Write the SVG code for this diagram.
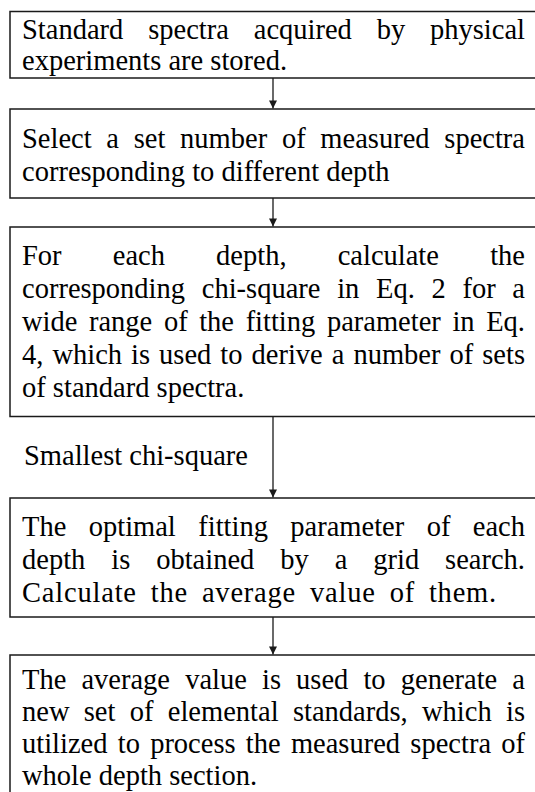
<svg xmlns="http://www.w3.org/2000/svg" width="535" height="792" viewBox="0 0 535 792">
<style>
.box{fill:#fff;stroke:#1a1a1a;stroke-width:1.5}
.t{font-family:"Liberation Serif","Times New Roman",serif;font-size:28.5px;fill:#000;font-variant-ligatures:none}
.e{text-anchor:end}
.w{letter-spacing:0.8px;word-spacing:6px}
.c{stroke:#1a1a1a;stroke-width:1.3;fill:none}
</style>
<defs>
<marker id="ah" viewBox="0 0 10 10" refX="10" refY="5" markerWidth="9" markerHeight="8" markerUnits="userSpaceOnUse" orient="auto">
<path d="M0,0 L10,5 L0,10 z" fill="#1a1a1a"/>
</marker>
</defs>
<rect width="535" height="792" fill="#fff"/>
<g id="connectors">
<line class="c" x1="273" y1="78" x2="273" y2="108.5" marker-end="url(#ah)"/>
<line class="c" x1="273" y1="198" x2="273" y2="226.5" marker-end="url(#ah)"/>
<line class="c" x1="273" y1="416.5" x2="273" y2="497.5" marker-end="url(#ah)"/>
<line class="c" x1="273" y1="617" x2="273" y2="654.5" marker-end="url(#ah)"/>
<text class="t" x="24" y="465">Smallest chi-square</text>
</g>
<g id="node1">
<rect class="box" x="10" y="11.5" width="540" height="66.5"/>
<text class="t" y="39"><tspan x="22">Standard</tspan><tspan x="148.2">spectra</tspan><tspan x="253.75">acquired</tspan><tspan x="376.7">by</tspan></text>
<text class="t e" x="525" y="39">physical</text>
<text class="t" x="22" y="70">experiments are stored.</text>
</g>
<g id="node2">
<rect class="box" x="10" y="109" width="540" height="89"/>
<text class="t" y="148"><tspan x="22">Select</tspan><tspan x="106.37">a</tspan><tspan x="133.74">set</tspan><tspan x="180.12">number</tspan><tspan x="281.91">of</tspan><tspan x="320.37">measured</tspan></text>
<text class="t e" x="525" y="148">spectra</text>
<text class="t" x="22" y="181">corresponding to different depth</text>
</g>
<g id="node3">
<rect class="box" x="10" y="227" width="540" height="189.5"/>
<text class="t" y="265"><tspan x="22">For</tspan><tspan x="112.74">each</tspan><tspan x="216.1">depth,</tspan><tspan x="337.7">calculate</tspan></text>
<text class="t e" x="525" y="265">the</text>
<text class="t" y="298"><tspan x="22">corresponding</tspan><tspan x="201.74">chi-square</tspan><tspan x="337.13">in</tspan><tspan x="375.99">Eq.</tspan><tspan x="431.47">2</tspan><tspan x="462.41">for</tspan></text>
<text class="t e" x="525" y="298">a</text>
<text class="t" y="331"><tspan x="22">wide</tspan><tspan x="88.99">range</tspan><tspan x="163.88">of</tspan><tspan x="199.21">the</tspan><tspan x="245.63">fitting</tspan><tspan x="326.9">parameter</tspan><tspan x="452.43">in</tspan></text>
<text class="t e" x="525" y="331">Eq.</text>
<text class="t" y="364"><tspan x="22">4,</tspan><tspan x="52.39">which</tspan><tspan x="131.05">is</tspan><tspan x="159.07">used</tspan><tspan x="220.32">to</tspan><tspan x="251.5">derive</tspan><tspan x="331.73">a</tspan><tspan x="353.39">number</tspan><tspan x="449.47">of</tspan></text>
<text class="t e" x="525" y="364">sets</text>
<text class="t" x="22" y="397">of standard spectra.</text>
</g>
<g id="node4">
<rect class="box" x="10" y="498" width="540" height="119"/>
<text class="t" y="536"><tspan x="22">The</tspan><tspan x="88.72">optimal</tspan><tspan x="198.22">fitting</tspan><tspan x="290.3">parameter</tspan><tspan x="426.64">of</tspan></text>
<text class="t e" x="525" y="536">each</text>
<text class="t" y="569"><tspan x="22">depth</tspan><tspan x="111.25">is</tspan><tspan x="156.18">obtained</tspan><tspan x="280.25">by</tspan><tspan x="334.67">a</tspan><tspan x="373.24">grid</tspan></text>
<text class="t e" x="525" y="569">search.</text>
<text class="t w" x="22" y="602">Calculate the average value of them.</text>
</g>
<g id="node5">
<rect class="box" x="10" y="655" width="540" height="150"/>
<text class="t" y="689"><tspan x="22">The</tspan><tspan x="81.43">average</tspan><tspan x="185.15">value</tspan><tspan x="261.99">is</tspan><tspan x="296.11">used</tspan><tspan x="363.46">to</tspan><tspan x="400.74">generate</tspan></text>
<text class="t e" x="525" y="689">a</text>
<text class="t" y="721"><tspan x="22">new</tspan><tspan x="83.79">set</tspan><tspan x="129.76">of</tspan><tspan x="167.81">elemental</tspan><tspan x="292.93">standards,</tspan><tspan x="422.01">which</tspan></text>
<text class="t e" x="525" y="721">is</text>
<text class="t" y="753"><tspan x="22">utilized</tspan><tspan x="117.73">to</tspan><tspan x="150.13">process</tspan><tspan x="245.83">the</tspan><tspan x="290.89">measured</tspan><tspan x="410.33">spectra</tspan></text>
<text class="t e" x="525" y="753">of</text>
<text class="t" x="22" y="785">whole depth section.</text>
</g>
</svg>
